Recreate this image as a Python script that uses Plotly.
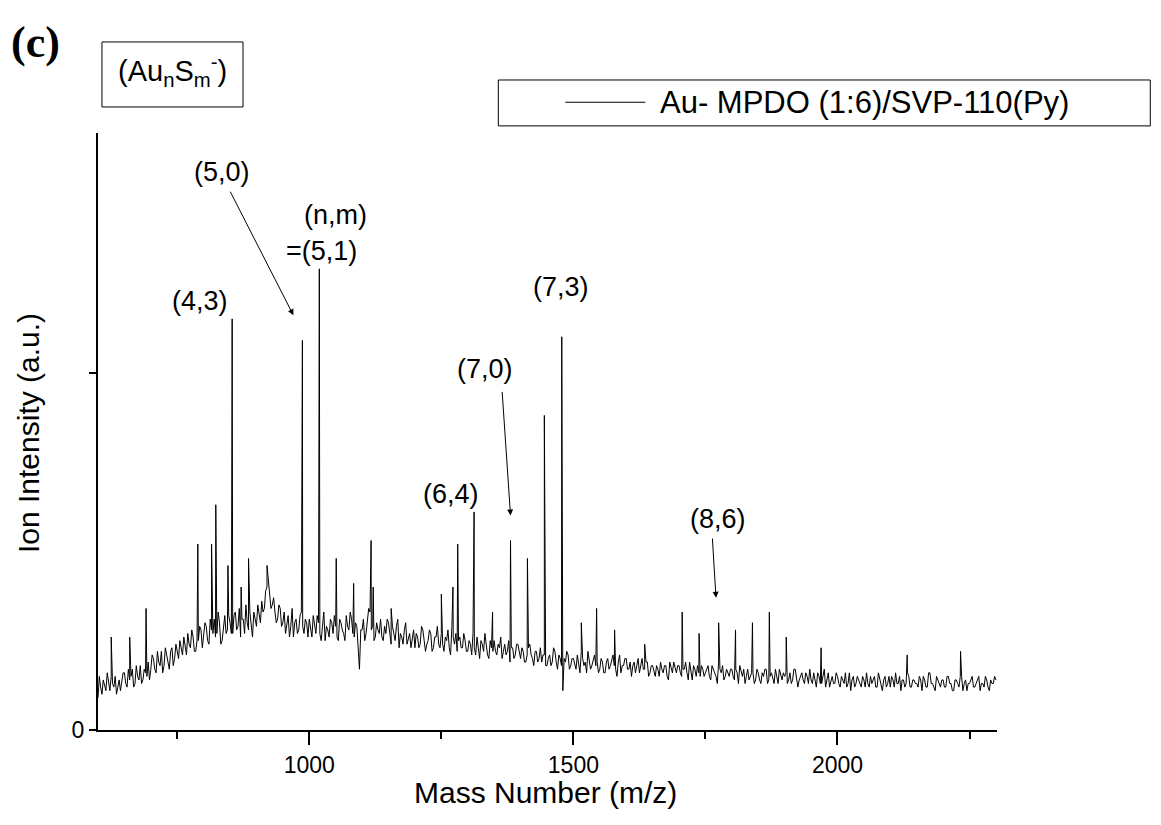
import plotly.graph_objects as go

# Mass spectrum, intensity in a.u. (tick "1" of the original axis = 100)
MZ_START, MZ_STEP = 600, 5

# baseline read every 5 m/z, from 600 to 2300
baseline = [
    9, 12, 14, 11, 13, 15, 12, 10, 14, 13,
    16, 12, 14, 17, 13, 15, 18, 14, 16, 19,
    17, 20, 16, 19, 22, 18, 21, 17, 23, 20,
    22, 25, 21, 24, 27, 23, 26, 22, 25, 28,
    26, 29, 24, 28, 31, 27, 30, 25, 32, 28,
    30, 27, 33, 29, 26, 31, 35, 28, 30, 33,
    29, 32, 36, 34, 40, 38, 35, 33, 31, 34,
    30, 27, 32, 29, 26, 31, 28, 33, 27, 30,
    31, 26, 29, 32, 27, 30, 25, 28, 31, 27,
    29, 25, 30, 27, 32, 28, 31, 26, 29, 17,
    28, 25, 30, 33, 29, 26, 28, 31, 25, 27,
    30, 24, 27, 29, 23, 26, 28, 24, 27, 25,
    23, 26, 24, 28, 22, 25, 27, 23, 26, 24,
    27, 22, 25, 23, 29, 24, 22, 26, 23, 25,
    22, 24, 27, 21, 23, 25, 22, 24, 20, 23,
    25, 21, 23, 20, 24, 22, 19, 23, 21, 24,
    20, 22, 19, 23, 21, 18, 22, 20, 19, 21,
    18, 21, 19, 22, 17, 20, 11, 19, 21, 18,
    20, 17, 19, 22, 18, 16, 20, 18, 21, 19,
    17, 19, 16, 20, 18, 21, 17, 19, 16, 18,
    20, 17, 15, 19, 18, 16, 20, 17, 19, 16,
    18, 15, 17, 19, 16, 18, 14, 17, 19, 16,
    18, 15, 17, 16, 19, 14, 17, 18, 15, 17,
    16, 18, 14, 17, 15, 19, 16, 14, 17, 15,
    17, 14, 16, 18, 15, 13, 17, 15, 16, 14,
    16, 13, 15, 17, 14, 16, 13, 15, 17, 14,
    15, 13, 16, 14, 17, 12, 15, 14, 16, 13,
    14, 16, 12, 15, 13, 17, 14, 12, 15, 13,
    15, 12, 14, 16, 13, 11, 15, 13, 14, 12,
    14, 16, 12, 13, 15, 12, 14, 11, 15, 13,
    12, 14, 16, 13, 11, 14, 13, 15, 12, 14,
    13, 15, 11, 14, 12, 16, 13, 11, 14, 12,
    14, 12, 15, 13, 11, 14, 12, 15, 13, 11,
    13, 15, 12, 14, 11, 13, 15, 12, 14, 13,
    14,
]

# baseline read in between, at 602.5, 607.5, ... 2297.5
baseline_half = [
    15, 10, 12, 16, 11, 13, 15, 12, 11, 16,
    13, 17, 15, 12, 18, 14, 13, 17, 15, 14,
    21, 17, 22, 18, 16, 23, 19, 22, 18, 24,
    20, 23, 26, 21, 24, 28, 22, 25, 29, 23,
    30, 25, 31, 27, 26, 33, 24, 29, 27, 32,
    27, 32, 28, 34, 31, 27, 30, 33, 26, 31,
    35, 30, 33, 39, 42, 34, 37, 30, 35, 29,
    33, 30, 26, 34, 30, 27, 32, 29, 31, 26,
    28, 32, 27, 30, 25, 33, 29, 26, 30, 32,
    26, 31, 28, 25, 29, 33, 27, 30, 24, 28,
    31, 27, 34, 28, 25, 30, 27, 26, 29, 31,
    26, 29, 25, 31, 27, 24, 30, 26, 23, 28,
    27, 23, 29, 25, 24, 28, 22, 26, 29, 23,
    24, 26, 28, 21, 26, 27, 25, 23, 27, 22,
    25, 21, 23, 26, 20, 24, 27, 21, 25, 22,
    22, 24, 26, 22, 21, 25, 23, 20, 24, 22,
    23, 19, 21, 24, 20, 22, 19, 23, 21, 18,
    20, 18, 23, 19, 21, 18, 20, 22, 17, 20,
    18, 21, 16, 20, 19, 22, 17, 20, 18, 16,
    20, 16, 19, 17, 20, 18, 15, 21, 18, 20,
    17, 19, 18, 16, 20, 18, 17, 19, 15, 18,
    16, 18, 15, 17, 18, 15, 19, 16, 17, 18,
    16, 17, 19, 14, 17, 18, 15, 16, 18, 15,
    17, 15, 18, 16, 13, 17, 18, 15, 16, 17,
    15, 17, 13, 16, 17, 15, 14, 16, 13, 17,
    14, 16, 17, 13, 15, 14, 17, 13, 15, 16,
    16, 14, 13, 17, 15, 14, 16, 13, 15, 17,
    13, 14, 16, 13, 15, 12, 16, 14, 13, 16,
    13, 15, 13, 12, 16, 14, 12, 15, 13, 15,
    12, 13, 15, 14, 12, 16, 13, 14, 12, 15,
    15, 12, 13, 15, 14, 12, 16, 12, 14, 13,
    12, 14, 15, 12, 16, 13, 12, 15, 13, 14,
    12, 15, 13, 11, 14, 13, 15, 11, 14, 13,
    14, 12, 13, 15, 13, 12, 14, 11, 13, 15,
]

# sharp cluster peaks
peak_mz = [625, 660, 691, 789, 815, 823, 846, 854, 871, 885, 920,
           987, 1019, 1051, 1084, 1117, 1121, 1155, 1250, 1272, 1281,
           1312, 1347, 1381, 1413, 1445, 1478, 1515, 1544, 1578, 1635,
           1706, 1738, 1775, 1807, 1839, 1871, 1903, 1969, 2132, 2233]
peak_int = [26, 26, 34, 52, 52, 63, 46, 115, 40, 48, 46,
            109, 129, 48, 41, 53, 40, 34, 38, 40, 52,
            61, 33, 53, 48, 88, 110, 30, 34, 28, 24,
            33, 27, 30, 28, 30, 33, 26, 23, 21, 22]

# peak labels (text, x, y) and arrows (head x, head y, tail x, tail y)
labels = [
    ("(5,0)", 834, 156),
    ("(n,m)", 1049, 144),
    ("=(5,1)", 1023, 134),
    ("(4,3)", 793, 120),
    ("(7,3)", 1477, 124),
    ("(7,0)", 1332, 101),
    ("(6,4)", 1269, 66),
    ("(8,6)", 1774, 59),
]
arrows = [
    (970, 116, 849, 151),
    (1381, 60, 1365, 95),
    (1770, 37, 1763, 54),
]

base_x = [MZ_START + i * MZ_STEP for i in range(len(baseline))]
half_x = [MZ_START + MZ_STEP / 2 + i * MZ_STEP for i in range(len(baseline_half))]
pts = sorted(list(zip(base_x, baseline)) + list(zip(half_x, baseline_half))
             + list(zip(peak_mz, peak_int)))
xs = [p[0] for p in pts]
ys = [p[1] for p in pts]

FONT = "Liberation Sans, Arial, sans-serif"

fig = go.Figure()
fig.add_trace(go.Scatter(
    x=xs, y=ys, mode="lines", line=dict(color="black", width=1),
    name="Au- MPDO (1:6)/SVP-110(Py)", showlegend=False,
))

ann = []
for t, x, y in labels:
    ann.append(dict(x=x, y=y, xref="x", yref="y", text=t, showarrow=False,
                    xanchor="center", yanchor="middle",
                    font=dict(size=27, color="black")))
for hx, hy, tx, ty in arrows:
    ann.append(dict(x=hx, y=hy, ax=tx, ay=ty, xref="x", yref="y",
                    axref="x", ayref="y", text="", showarrow=True,
                    arrowhead=2, arrowsize=1.2, arrowwidth=1, arrowcolor="black"))

# axis titles, panel letter, cluster formula, legend text
ann += [
    dict(x=0.4976, y=-0.105, text="Mass Number (m/z)", font=dict(size=30)),
    dict(x=-0.0775, y=0.498, text="Ion Intensity (a.u.)", font=dict(size=30),
         textangle=-90),
    dict(x=-0.07, y=1.152, text="<b>(c)</b>",
         font=dict(size=44, family="Liberation Serif, Times New Roman, serif")),
    dict(x=0.0826, y=1.104, text="(Au<sub>n</sub>S<sub>m</sub><sup>-</sup>)",
         font=dict(size=29)),
    dict(x=0.6229, y=1.0515, xanchor="left", text="Au- MPDO (1:6)/SVP-110(Py)",
         font=dict(size=31)),
]
for a in ann[-5:]:
    a.update(xref="paper", yref="paper", showarrow=False, yanchor="middle")
    a.setdefault("xanchor", "center")

shapes = [
    dict(type="rect", xref="paper", yref="paper", x0=0.0044, x1=0.1613,
         y0=1.0436, y1=1.1525, line=dict(color="black", width=1)),
    dict(type="rect", xref="paper", yref="paper", x0=0.4453, x1=1.1705,
         y0=1.0119, y1=1.0888, line=dict(color="black", width=1)),
    dict(type="line", xref="paper", yref="paper", x0=0.5198, x1=0.6088,
         y0=1.0515, y1=1.0515, line=dict(color="black", width=1)),
]

fig.update_layout(
    width=1161, height=825,
    margin=dict(l=90, r=172, t=125, b=103),
    paper_bgcolor="white", plot_bgcolor="white",
    font=dict(family=FONT, color="black"),
    annotations=ann, shapes=shapes,
)
fig.update_xaxes(
    range=[600, 2302], showgrid=False, zeroline=False,
    showline=True, linecolor="black", linewidth=2,
    ticks="outside", ticklen=13, tickwidth=2, tickcolor="black",
    tickvals=[1000, 1500, 2000], tickfont=dict(size=23),
    minor=dict(tickvals=[750, 1250, 1750, 2250], ticks="outside",
               ticklen=7, tickwidth=2, tickcolor="black"),
)
fig.update_yaxes(
    range=[0, 167], showgrid=False, zeroline=False,
    showline=True, linecolor="black", linewidth=2,
    ticks="outside", ticklen=7, tickwidth=2, tickcolor="black",
    tickvals=[0, 100], ticktext=["0", ""], tickfont=dict(size=23),
)

fig.write_html("out.html")
